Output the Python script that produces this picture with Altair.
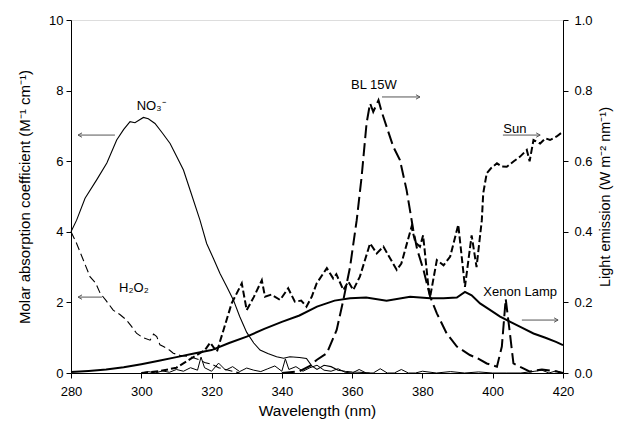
import altair as alt
import pandas as pd

# ---------------- data ----------------
no3_wl = [280, 281.6, 284, 287.3, 290.2, 293, 295, 296.8, 298.2, 300.6, 302, 303.9, 306, 308.2,
          310, 312, 314, 316.7, 318.6, 320.5, 322.4, 324.3, 326.2, 328, 330, 332, 333.8, 336,
          338.5, 340.5, 342.3, 345, 347, 348.5, 350, 352, 354, 356, 358, 360, 362, 365]
no3_v = [4.0, 4.33, 4.95, 5.47, 5.95, 6.6, 6.9, 7.12, 7.09, 7.24, 7.2, 7.07, 6.8, 6.5,
         6.15, 5.75, 5.15, 4.33, 3.67, 3.25, 2.82, 2.45, 2.07, 1.6, 1.15, 0.85, 0.65, 0.55,
         0.46, 0.42, 0.46, 0.44, 0.41, 0.2, 0.1, 0.22, 0.18, 0.08, 0.05, 0.03, 0.02, 0.0]

h2o2_wl = [280, 281.6, 283.5, 285.4, 287, 288.3, 290, 292, 294, 295.8, 297, 298.7, 300.5, 302.5,
           303.5, 304.4, 305.3, 306.3, 308, 309.1, 311, 313.9, 316.7, 318, 320, 322, 324, 326, 328]
h2o2_v = [4.0, 3.67, 3.2, 2.73, 2.55, 2.26, 2.05, 1.78, 1.65, 1.5, 1.35, 1.12, 1.0, 0.93,
          1.1, 1.03, 0.8, 0.75, 0.65, 0.56, 0.5, 0.46, 0.37, 0.3, 0.25, 0.15, 0.1, 0.05, 0.0]

base_wl = [300, 302, 304, 306, 308, 310, 312, 314, 316, 317, 318, 320, 322, 324, 326, 328, 330,
           332, 334, 336, 338, 340, 341, 342, 344, 346, 348, 350, 352, 354, 356, 358, 360, 362,
           364, 366, 368, 370, 372, 374, 376, 378, 380, 384, 388, 392, 396, 400, 404, 408, 412,
           414, 416, 418, 420]
base_v = [0.0, 0.04, 0.0, 0.06, 0.02, 0.1, 0.05, 0.15, 0.08, 0.45, 0.15, 0.05, 0.28, 0.08, 0.18,
          0.04, 0.14, 0.08, 0.04, 0.12, 0.2, 0.05, 0.4, 0.1, 0.18, 0.05, 0.15, 0.22, 0.08, 0.05,
          0.12, 0.02, 0.0, 0.1, 0.0, 0.0, 0.12, 0.0, 0.0, 0.1, 0.0, 0.0, 0.05, 0.0, 0.04, 0.0,
          0.03, 0.0, 0.0, 0.0, 0.05, 0.08, 0.0, 0.06, 0.0]

xe_wl = [280, 285, 290, 295, 300, 305, 310, 315, 320, 325, 330, 335, 340, 345, 350, 355, 359.4,
         364, 369.8, 376.5, 382.2, 386, 389.8, 392.1, 394, 396.4, 399, 402.1, 405, 408, 411.6,
         415, 418, 420]
xe_v = [0.003, 0.006, 0.01, 0.016, 0.025, 0.035, 0.045, 0.055, 0.065, 0.085, 0.103, 0.125, 0.145,
        0.163, 0.188, 0.205, 0.212, 0.214, 0.205, 0.216, 0.212, 0.212, 0.214, 0.23, 0.22, 0.197,
        0.18, 0.16, 0.145, 0.13, 0.112, 0.1, 0.088, 0.079]

bl_wl = [340, 345, 348, 349.9, 352.8, 355.6, 357.5, 359.4, 361.3, 362.7, 364.1, 365.1, 366, 367.5,
         368.4, 369.8, 371.7, 373.6, 375.5, 377.4, 378.5, 380.3, 382.2, 384.1, 386.9, 389.8,
         393.5, 396, 398.3, 401.2, 402.6, 403.7, 404.9, 405.9, 408.7, 410.6, 414, 418.2, 420]
bl_v = [0.0, 0.005, 0.02, 0.037, 0.056, 0.122, 0.207, 0.30, 0.433, 0.556, 0.707, 0.764, 0.74,
        0.773, 0.74, 0.698, 0.641, 0.603, 0.518, 0.405, 0.35, 0.292, 0.216, 0.169, 0.112, 0.075,
        0.051, 0.04, 0.027, 0.018, 0.075, 0.21, 0.112, 0.027, 0.013, 0.004, 0.01, 0.004, 0.0]

sun_wl = [300, 305, 310, 314, 318.1, 319.6, 321.5, 323.4, 325.7, 328.6, 330, 332, 334.3, 335.2,
          337, 339.5, 341.8, 343.7, 345.5, 347, 348.5, 349.9, 352.8, 354.6, 355.5, 357.5, 358.9,
          360.3, 362.2, 365.1, 367, 368.9, 370.5, 372.7, 374, 376.9, 378, 379.3, 380.2, 381.7,
          382.2, 384.1, 386, 387.9, 390.2, 392.1, 394, 395.4, 396.9, 397.3, 398.3, 399.5, 401.2,
          402.5, 404, 406, 407.8, 409.7, 410.5, 411.6, 413.5, 415, 416.3, 418.2, 420]
sun_v = [0.0, 0.005, 0.015, 0.04, 0.065, 0.086, 0.06, 0.122, 0.197, 0.254, 0.178, 0.215, 0.263,
         0.216, 0.222, 0.207, 0.24, 0.202, 0.205, 0.188, 0.216, 0.254, 0.297, 0.268, 0.28, 0.235,
         0.259, 0.235, 0.273, 0.367, 0.339, 0.358, 0.33, 0.292, 0.31, 0.414, 0.37, 0.358, 0.39,
         0.244, 0.216, 0.32, 0.305, 0.33, 0.42, 0.244, 0.39, 0.30, 0.433, 0.509, 0.566, 0.58,
         0.594, 0.585, 0.584, 0.6, 0.613, 0.632, 0.6, 0.66, 0.65, 0.665, 0.66, 0.67, 0.684]

# annotations (wavelength, left-axis value)
label_text = ["NO\u2083\u207b", "H\u2082O\u2082", "BL 15W", "Sun", "Xenon Lamp"]
label_wl = [302.8, 297.9, 366.2, 406.3, 407.8]
label_v = [7.56, 2.41, 8.16, 6.91, 2.29]

arrow_from = [292.5, 288.8, 368.5, 402.9, 408.3]
arrow_to = [282.0, 282.0, 379.3, 413.5, 418.6]
arrow_v = [6.74, 2.15, 7.82, 6.74, 1.5]
arrow_dir = ["left", "left", "right", "right", "right"]

FONT = "Liberation Sans"

def frame(wl, v):
    return pd.DataFrame({"wl": wl, "v": v})

common = dict(grid=False, labelFlush=False, labelFont=FONT, titleFont=FONT,
              domainColor="black", tickColor="black", labelColor="black",
              titleColor="black", titleFontWeight="normal", tickSize=5, labelFontSize=13)

xs = alt.Scale(domain=[280, 420], nice=False, zero=False, padding=0)
x_axis = alt.Axis(values=[280, 300, 320, 340, 360, 380, 400, 420], title="Wavelength (nm)",
                  labelPadding=7, titlePadding=5, titleFontSize=15.5, **common)
X = alt.X("wl:Q", scale=xs, axis=x_axis)

ls = alt.Scale(domain=[0, 10], nice=False, padding=0)
left_axis = alt.Axis(values=[0, 2, 4, 6, 8, 10], format="d", orient="left",
                     title="Molar absorption coefficient (M\u207b\u00b9 cm\u207b\u00b9)",
                     labelPadding=3, titlePadding=16, titleFontSize=15, **common)
YL = alt.Y("v:Q", scale=ls, axis=left_axis)

rs = alt.Scale(domain=[0, 1], nice=False, padding=0)
right_axis = alt.Axis(values=[0, 0.2, 0.4, 0.6, 0.8, 1.0], format=".1f", orient="right",
                      title="Light emission (W m\u207b\u00b2 nm\u207b\u00b9)",
                      labelPadding=6, titlePadding=20, titleAngle=270, titleFontSize=14.5,
                      **common)
YR = alt.Y("v:Q", scale=rs, axis=right_axis)

no3 = alt.Chart(frame(no3_wl, no3_v)).mark_line(color="black", strokeWidth=1.1).encode(x=X, y=YL)
h2o2 = alt.Chart(frame(h2o2_wl, h2o2_v)).mark_line(
    color="black", strokeWidth=1.1, strokeDash=[8, 4]).encode(x=X, y=YL)
base = alt.Chart(frame(base_wl, base_v)).mark_line(color="black", strokeWidth=1.0).encode(x=X, y=YL)

labels = alt.Chart(pd.DataFrame({"wl": label_wl, "v": label_v, "t": label_text})).mark_text(
    font=FONT, fontSize=13, color="black").encode(x=X, y=YL, text="t:N")

arrows_df = pd.DataFrame({"a": arrow_from, "b": arrow_to, "v": arrow_v, "d": arrow_dir})
arrow_lines = alt.Chart(arrows_df).mark_rule(color="#555555", strokeWidth=1).encode(
    x=alt.X("a:Q", scale=xs), x2="b:Q", y=YL)
head_r = alt.Chart(arrows_df[arrows_df.d == "right"]).mark_point(
    shape="M-2,-1.1L0,0L-2,1.1", size=16, filled=False, color="#555555", strokeWidth=1,
    opacity=1).encode(x=alt.X("b:Q", scale=xs), y=YL)
head_l = alt.Chart(arrows_df[arrows_df.d == "left"]).mark_point(
    shape="M2,-1.1L0,0L2,1.1", size=16, filled=False, color="#555555", strokeWidth=1,
    opacity=1).encode(x=alt.X("b:Q", scale=xs), y=YL)

left = alt.layer(no3, h2o2, base, arrow_lines, head_r, head_l, labels)

xe = alt.Chart(frame(xe_wl, xe_v)).mark_line(color="black", strokeWidth=2).encode(x=X, y=YR)
bl = alt.Chart(frame(bl_wl, bl_v)).mark_line(
    color="black", strokeWidth=2, strokeDash=[13, 5]).encode(x=X, y=YR)
sun = alt.Chart(frame(sun_wl, sun_v)).mark_line(
    color="black", strokeWidth=2, strokeDash=[7, 3]).encode(x=X, y=YR)

right = alt.layer(xe, bl, sun)

chart = alt.layer(left, right).resolve_scale(y="independent").properties(
    width=492, height=353,
    autosize=alt.AutoSizeParams(type="none"),
    padding={"left": 63, "top": 12, "right": 56, "bottom": 48},
).configure_view(stroke="black", strokeWidth=1).configure(background="white")

chart.save("out.html", embed_options={"renderer": "svg", "actions": False})
